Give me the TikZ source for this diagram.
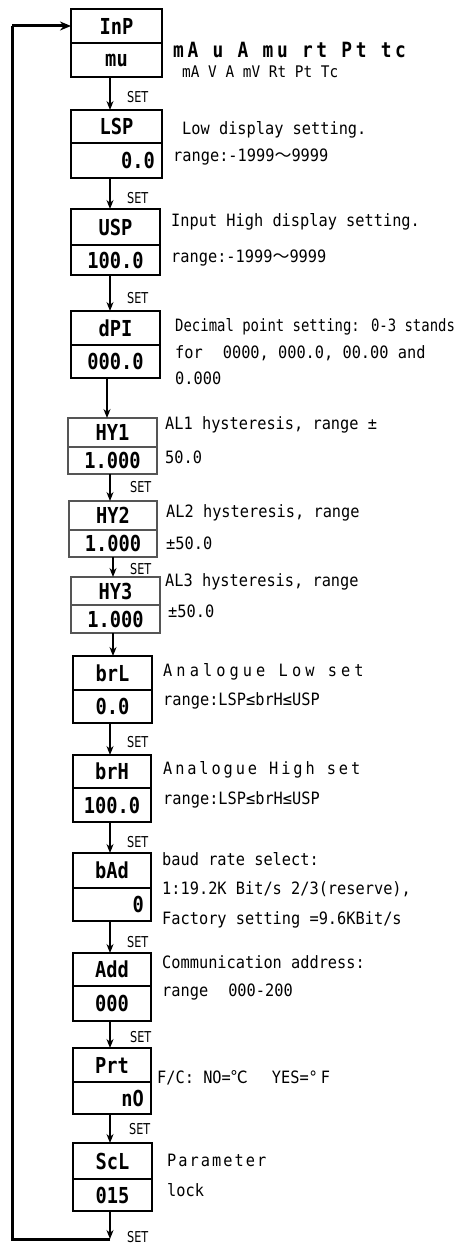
\documentclass[tikz,border=0pt]{standalone}
\usepackage{fontspec}
\usetikzlibrary{arrows.meta}
\newfontfamily\descfont[FakeStretch=0.9]{DejaVu Sans Mono}
\newfontfamily\descnarrow[FakeStretch=0.82]{DejaVu Sans Mono}
\newfontfamily\segfont[FakeStretch=0.85]{DejaVu Sans Mono}
\newfontfamily\setfont[FakeStretch=0.75]{DejaVu Sans}
\newfontfamily\cjk{Noto Sans CJK SC}
\definecolor{boxgray}{RGB}{85,85,85}
\def\boxcol{black}
\newcommand\pbox[9]{%
  \node[half, draw=\boxcol, minimum width={(#6-#2)*1pt}, minimum height={(#4-#3)*1pt}] (#1) at (#2,#3) {#7};
  \node[half, draw=\boxcol, minimum width={(#6-#2)*1pt}, minimum height={(#5-#4)*1pt}] (#1v) at (#2,#4) {\makebox[\dimexpr #6pt-#2pt-14pt\relax][#9]{#8}};
}
\begin{document}
\begin{tikzpicture}[x=1pt,y=-1pt,
  desc/.style={anchor=west, inner sep=0pt, font=\descfont\fontsize{17}{17}\selectfont},
  segrow/.style={anchor=west, inner sep=0pt, font=\segfont\bfseries\fontsize{21}{21}\selectfont},
  setlbl/.style={anchor=west, inner sep=0pt, font=\setfont\fontsize{15}{15}\selectfont},
  half/.style={line width=2pt, anchor=north west, inner sep=0pt, outer sep=0pt, font=\segfont\bfseries\fontsize{22}{22}\selectfont},
  flow/.style={line width=1.3pt, -{Stealth[length=9pt,width=7pt]}},
  loopline/.style={line width=3pt, line join=miter},
]
\useasboundingbox (0,0) rectangle (463,1244);
\fill[white] (0,0) rectangle (463,1244);

% boxes
\pbox{inp}{71}{9}{43}{77}{162}{InP}{mu}{c}
\pbox{lsp}{71}{110}{143}{178}{162}{LSP}{0.0}{r}
\pbox{usp}{71}{209}{245}{275}{160}{USP}{100.0}{c}
\pbox{dpi}{71}{311}{345}{378}{160}{dPI}{000.0}{c}
\def\boxcol{boxgray}
\pbox{hya}{68}{418}{447}{474}{157}{HY1}{1.000}{c}
\pbox{hyb}{69}{501}{530}{557}{157}{HY2}{1.000}{c}
\pbox{hyc}{71}{577}{605}{633}{160}{HY3}{1.000}{c}
\def\boxcol{black}
\pbox{brl}{73}{656}{690}{723}{152}{brL}{0.0}{c}
\pbox{brh}{73}{755}{788}{822}{151}{brH}{100.0}{c}
\pbox{bad}{73}{853}{888}{921}{151}{bAd}{0}{r}
\pbox{add}{73}{953}{986}{1021}{151}{Add}{000}{c}
\pbox{prt}{73}{1048}{1082}{1114}{151}{Prt}{nO}{r}
\pbox{scl}{73}{1143}{1179}{1211}{152}{ScL}{015}{c}

% connectors
\coordinate (ax) at (110,0);
\coordinate (bx) at (107,0);
\coordinate (cx) at (113,0);
\draw[flow] (inpv.south -| ax) -- (lsp.north -| ax);
\draw[flow] (lspv.south -| ax) -- (usp.north -| ax);
\draw[flow] (uspv.south -| ax) -- (dpi.north -| ax);
\draw[flow] (dpiv.south -| bx) -- (hya.north -| bx);
\draw[flow] (hyav.south -| ax) -- (hyb.north -| ax);
\draw[flow] (hybv.south -| cx) -- (hyc.north -| cx);
\draw[flow] (hycv.south -| cx) -- (brl.north -| cx);
\draw[flow] (brlv.south -| ax) -- (brh.north -| ax);
\draw[flow] (brhv.south -| ax) -- (bad.north -| ax);
\draw[flow] (badv.south -| ax) -- (add.north -| ax);
\draw[flow] (addv.south -| ax) -- (prt.north -| ax);
\draw[flow] (prtv.south -| ax) -- (scl.north -| ax);
\coordinate (botend) at (110,1239);
\coordinate (lc) at (12,0);
\draw[flow] (sclv.south -| ax) -- (botend);
\draw[loopline] (botend) -| (lc |- inp.west);
\draw[loopline, -{Stealth[length=11pt,width=9pt]}] (lc |- inp.west) -- (inp.west);

% SET labels
\node[setlbl] (s1) at (127,97) {SET};
\node[setlbl] (s2) at (127,198) {SET};
\node[setlbl] (s3) at (127,298) {SET};
\node[setlbl] (s4) at (130,487) {SET};
\node[setlbl] (s5) at (130,569) {SET};
\node[setlbl] (s6) at (127,742) {SET};
\node[setlbl] (s7) at (127,842) {SET};
\node[setlbl] (s8) at (127,942) {SET};
\node[setlbl] (s9) at (130,1037) {SET};
\node[setlbl] (s10) at (129,1129) {SET};
\node[setlbl] (s11) at (127,1237) {SET};

% descriptions
\node[segrow] (t0) at (173,50) {\addfontfeatures{LetterSpace=17}mA u A mu rt Pt tc};
\node[desc, font=\descfont\fontsize{16}{16}\selectfont] (t0b) at (182,72) {mA V A mV Rt Pt Tc};
\node[desc] (t1a) at (182,130) {Low display setting.};
\node[desc] (t1b) at (173,157) {range:-1999{\cjk ～}9999};
\node[desc] (t2a) at (171,222) {Input High display setting.};
\node[desc] (t2b) at (171,258) {range:-1999{\cjk ～}9999};
\node[desc, font=\descnarrow\fontsize{17}{17}\selectfont] (t3a) at (175,327) {Decimal point setting: 0-3 stands};
\node[desc] (t3b) at (175,353) {for\hspace{20pt}0000, 000.0, 00.00 and};
\node[desc] (t3c) at (175,378) {0.000};
\node[desc] (t4a) at (165,425) {AL1 hysteresis, range ±};
\node[desc] (t4b) at (165,457) {50.0};
\node[desc] (t5a) at (166,513) {AL2 hysteresis, range};
\node[desc] (t5b) at (166,543) {±50.0};
\node[desc] (t6a) at (165,582) {AL3 hysteresis, range};
\node[desc] (t6b) at (168,611) {±50.0};
\node[desc] (t7a) at (163,672) {\addfontfeatures{LetterSpace=24}Analogue Low set};
\node[desc] (t7b) at (163,701) {range:LSP≤brH≤USP};
\node[desc] (t8a) at (163,770) {\addfontfeatures{LetterSpace=17}Analogue High set};
\node[desc] (t8b) at (163,800) {range:LSP≤brH≤USP};
\node[desc] (t9a) at (162,859) {baud rate select:};
\node[desc] (t9b) at (162,889) {1:19.2K Bit/s 2/3(reserve),};
\node[desc] (t9c) at (162,920) {Factory setting =9.6KBit/s};
\node[desc] (t10a) at (162,962) {Communication address:};
\node[desc] (t10b) at (162,992) {range\hspace{20pt}000-200};
\node[desc] (t11) at (157,1078) {F/C: NO={\cjk ℃}\hspace{24pt}YES=°\,F};
\node[desc] (t12a) at (167,1160) {\addfontfeatures{LetterSpace=12}Parameter};
\node[desc] (t12b) at (167,1190) {lock};
\end{tikzpicture}
\end{document}
